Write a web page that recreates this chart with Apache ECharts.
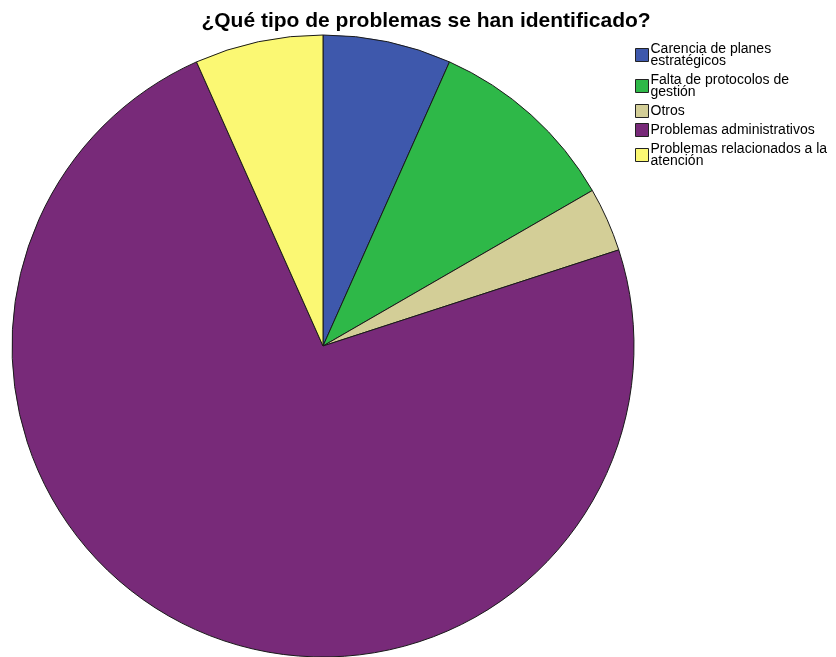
<!DOCTYPE html>
<html>
<head>
<meta charset="utf-8">
<script src="https://cdn.jsdelivr.net/npm/echarts@6/dist/echarts.min.js"></script>
<style>
  html, body { margin: 0; padding: 0; background: #fff; }
  #chart { width: 836px; height: 657px; }
</style>
</head>
<body>
<div id="chart"></div>
<script>
// datos (frecuencias)
var categorias = [
  'Carencia de planes estratégicos',
  'Falta de protocolos de gestión',
  'Otros',
  'Problemas administrativos',
  'Problemas relacionados a la atención'
];
var valores = [2, 3, 1, 22, 2];
var colores = ['#3E58AC', '#2EB848', '#D3CE97', '#782A79', '#FBF873'];
// cortes de línea como en la leyenda original
var etiquetasLeyenda = {
  'Carencia de planes estratégicos': 'Carencia de planes\nestratégicos',
  'Falta de protocolos de gestión': 'Falta de protocolos de\ngestión',
  'Otros': 'Otros',
  'Problemas administrativos': 'Problemas administrativos',
  'Problemas relacionados a la atención': 'Problemas relacionados a la\natención'
};

var myChart = echarts.init(document.getElementById('chart'));

var datos = categorias.map(function (c, i) {
  return { name: c, value: valores[i] };
});

var option = {
  backgroundColor: '#fff',
  animation: false,
  color: colores,
  title: {
    text: '¿Qué tipo de problemas se han identificado?',
    left: 421,
    top: 6,
    textAlign: 'center',
    textStyle: {
      fontFamily: 'Liberation Sans, Arial, sans-serif',
      fontSize: 21,
      fontWeight: 'bold',
      color: '#000'
    }
  },
  legend: {
    orient: 'vertical',
    left: 635,
    top: 42,
    itemWidth: 13,
    itemHeight: 13,
    itemGap: 5,
    icon: 'rect',
    itemStyle: { borderColor: '#222', borderWidth: 1 },
    formatter: function (name) { return etiquetasLeyenda[name]; },
    textStyle: {
      fontFamily: 'Liberation Sans, Arial, sans-serif',
      fontSize: 14,
      lineHeight: 12,
      color: '#000',
      padding: [0, 0, 0, -3]
    },
    padding: 0
  },
  series: [{
    type: 'pie',
    center: [323, 346],
    radius: [0, 311],
    startAngle: 90,
    clockwise: true,
    label: { show: false },
    labelLine: { show: false },
    emphasis: { disabled: true },
    itemStyle: { borderColor: '#1a1a1a', borderWidth: 1 },
    data: datos
  }]
};

myChart.setOption(option);
</script>
</body>
</html>
